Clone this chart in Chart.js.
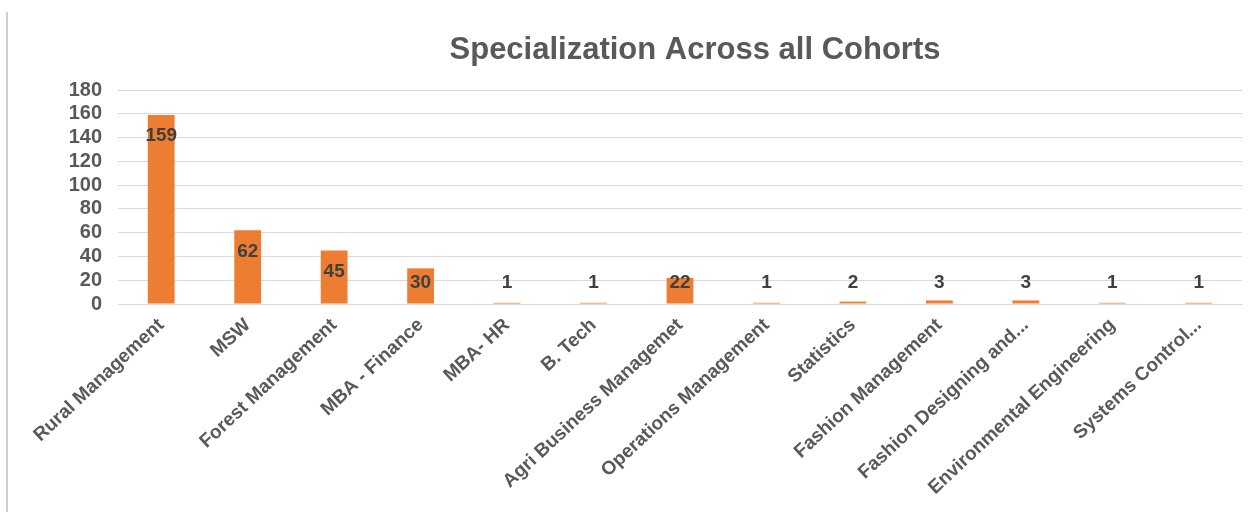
<!DOCTYPE html>
<html>
<head>
<meta charset="utf-8">
<script src="https://cdn.jsdelivr.net/npm/chart.js@4.4.0/dist/chart.umd.min.js"></script>
<style>
  html, body { margin: 0; padding: 0; background: #fff; }
  #wrap { position: relative; width: 1254px; height: 512px; }
  #edge { position: absolute; left: 6px; top: 12px; bottom: 0; width: 2px; background: #d0d0d0; }
  canvas { display: block; }
</style>
</head>
<body>
<div id="wrap">
  <div id="edge"></div>
  <canvas id="Chart_spec" width="1254" height="512"></canvas>
</div>
<script>
  var categories = [
    'Rural Management', 'MSW', 'Forest Management', 'MBA - Finance', 'MBA- HR',
    'B. Tech', 'Agri Business Managemet', 'Operations Management', 'Statistics',
    'Fashion Management', 'Fashion Designing and...', 'Environmental Engineering',
    'Systems Control...'
  ];
  var counts = [159, 62, 45, 30, 1, 1, 22, 1, 2, 3, 3, 1, 1];
  var yTicks = [0, 20, 40, 60, 80, 100, 120, 140, 160, 180];
  var chartTitle = 'Specialization Across all Cohorts';

  // value labels, Excel style "inside end"
  var valueLabels = {
    id: 'valueLabels',
    afterDatasetsDraw: function (chart) {
      var ctx = chart.ctx;
      var base = chart.scales.y.getPixelForValue(0);
      var meta = chart.getDatasetMeta(0);
      ctx.save();
      ctx.font = 'bold 19px "Liberation Sans", Arial, sans-serif';
      ctx.fillStyle = '#404040';
      ctx.textAlign = 'center';
      ctx.textBaseline = 'middle';
      meta.data.forEach(function (bar, i) {
        var y = Math.min(bar.y + 21, base - 21);
        ctx.fillText(String(counts[i]), bar.x, y);
      });
      ctx.restore();
    }
  };

  var titleText = {
    id: 'titleText',
    afterDraw: function (chart) {
      var ctx = chart.ctx;
      ctx.save();
      ctx.font = 'bold 31px "Liberation Sans", Arial, sans-serif';
      ctx.fillStyle = '#595959';
      ctx.textAlign = 'center';
      ctx.textBaseline = 'middle';
      ctx.fillText(chartTitle, 695, 50);
      ctx.restore();
    }
  };

  var ctx = document.getElementById('Chart_spec').getContext('2d');
  new Chart(ctx, {
    type: 'bar',
    data: {
      labels: categories,
      datasets: [{
        data: counts,
        backgroundColor: '#ED7D31',
        borderWidth: 0,
        barPercentage: 0.31,
        categoryPercentage: 1
      }]
    },
    options: {
      responsive: false,
      animation: false,
      layout: { padding: { left: 60, right: 12, top: 90, bottom: 0 } },
      plugins: {
        legend: { display: false },
        title: { display: false },
        tooltip: { enabled: false }
      },
      scales: {
        y: {
          min: 0,
          max: 180,
          afterBuildTicks: function (axis) {
            axis.ticks = yTicks.map(function (v) { return { value: v }; });
          },
          afterFit: function (axis) { axis.width = 58; },
          ticks: {
            autoSkip: false,
            padding: 16,
            color: '#595959',
            font: { family: '"Liberation Sans", Arial, sans-serif', size: 20, weight: 'bold' }
          },
          grid: { color: '#d9d9d9', drawTicks: false },
          border: { display: false }
        },
        x: {
          afterFit: function (axis) { axis.height = 208; },
          ticks: {
            autoSkip: false,
            minRotation: 43,
            maxRotation: 43,
            padding: 2,
            color: '#595959',
            font: { family: '"Liberation Sans", Arial, sans-serif', size: 19, weight: 'bold' }
          },
          grid: { display: false },
          border: { display: true, color: '#d9d9d9' }
        }
      }
    },
    plugins: [valueLabels, titleText]
  });
</script>
</body>
</html>
